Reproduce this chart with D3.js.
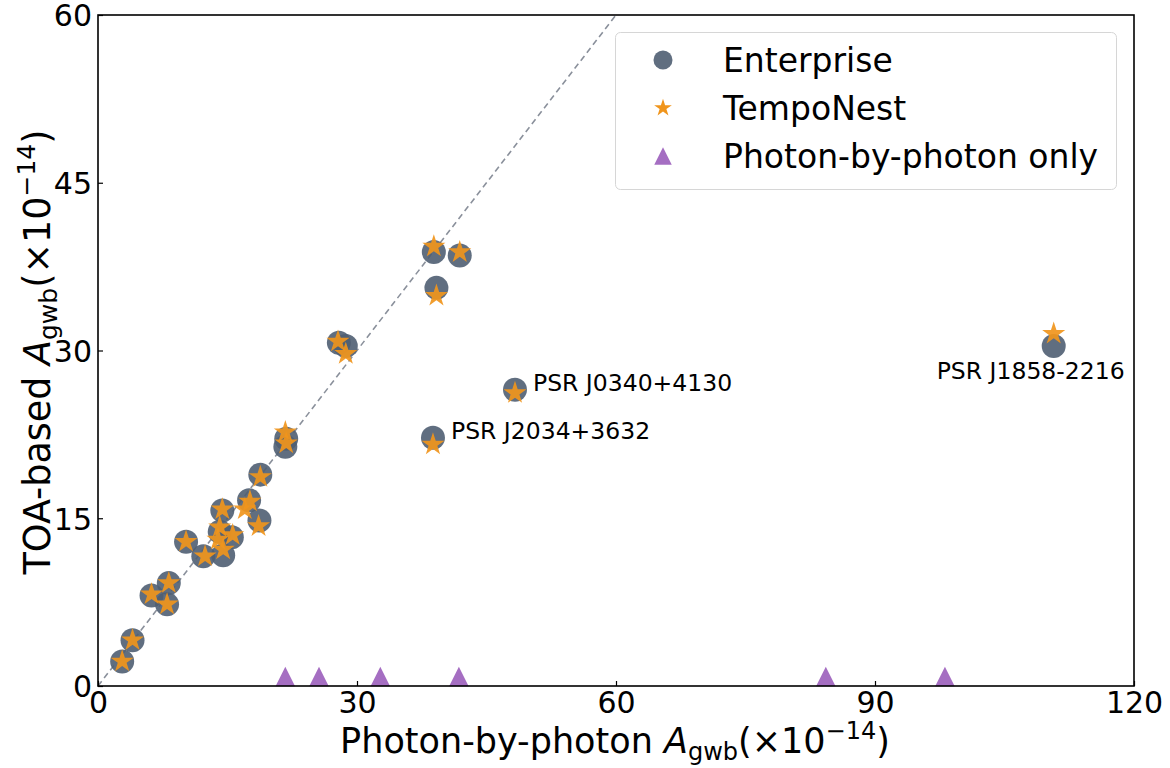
<!DOCTYPE html>
<html><head><meta charset="utf-8">
<script src="https://cdn.jsdelivr.net/npm/d3@7"></script>
<style>
html,body{margin:0;padding:0;background:#fff;}
svg text{font-family:"DejaVu Sans",sans-serif;}
</style></head>
<body>
<svg id="chart" width="1170" height="768"></svg>
<script>
// Data (units of 1e-14)
const enterpriseX = [2.8, 4.0, 6.2, 8.0, 8.2, 10.2, 12.2, 14.1, 15.5, 14.5, 14.4, 17.5, 18.7, 18.8, 21.8, 21.7, 27.9, 28.7, 38.9, 41.9, 39.2, 48.3, 38.8, 110.7];
const enterpriseY = [2.2, 4.1, 8.1, 7.3, 9.2, 12.9, 11.6, 13.8, 13.3, 11.7, 15.7, 16.6, 14.8, 18.9, 22.1, 21.4, 30.7, 30.4, 38.8, 38.5, 35.6, 26.5, 22.2, 30.4];
const tempoX = [2.8, 4.0, 6.2, 8.0, 8.2, 10.2, 12.4, 14.1, 13.9, 15.6, 14.5, 14.4, 17.6, 17.0, 18.6, 18.8, 21.7, 21.8, 27.8, 28.7, 38.9, 41.9, 39.2, 48.3, 38.8, 110.7];
const tempoY = [2.2, 4.1, 8.2, 7.3, 9.2, 12.9, 11.6, 14.2, 13.1, 13.5, 12.2, 15.8, 16.5, 15.8, 14.3, 18.7, 22.7, 21.7, 30.8, 29.7, 39.3, 38.8, 34.9, 26.2, 21.6, 31.5];
const photonOnlyX = [21.7, 25.6, 32.7, 41.8, 84.3, 98.1];
const photonOnlyY = [0.85, 0.85, 0.85, 0.85, 0.85, 0.85];
const xTicks = [0, 30, 60, 90, 120];
const yTicks = [0, 15, 30, 45, 60];
const annotNames = ["PSR J0340+4130", "PSR J2034+3632", "PSR J1858-2216"];
const annotX = [48.3, 38.8, 110.7];
const annotY = [26.5, 22.2, 30.4];
const legendNames = ["Enterprise", "TempoNest", "Photon-by-photon only"];

const colors = {ent: "#4f5e72", tempo: "#f0951c", photon: "#a56ec2"};

const svg = d3.select("#chart");
const L = 98, R = 1134, T = 15, B = 686;
const x = d3.scaleLinear().domain([0, 120]).range([L, R]);
const y = d3.scaleLinear().domain([0, 60]).range([B, T]);

// matplotlib-like triangle: width == height, centred on bbox
const mplTriangle = {
  draw(context, size) {
    const h = Math.sqrt(size);
    context.moveTo(0, -h / 2);
    context.lineTo(h / 2, h / 2);
    context.lineTo(-h / 2, h / 2);
    context.closePath();
  }
};

// diagonal dashed line y = x
svg.append("line")
  .attr("x1", x(0)).attr("y1", y(0)).attr("x2", x(60)).attr("y2", y(60))
  .attr("stroke", "#8a909b").attr("stroke-width", 1.6).attr("stroke-dasharray", "6,4");

// axes
const xAxis = d3.axisBottom(x).tickValues(xTicks).tickSizeInner(-5).tickSizeOuter(0).tickPadding(5);
const yAxis = d3.axisLeft(y).tickValues(yTicks).tickSizeInner(-5).tickSizeOuter(0).tickPadding(6);
const gx = svg.append("g").attr("transform", `translate(0,${B})`).call(xAxis);
const gy = svg.append("g").attr("transform", `translate(${L},0)`).call(yAxis);
[gx, gy].forEach(g => {
  g.select(".domain").remove();
  g.selectAll(".tick line").attr("stroke", "#000").attr("stroke-width", 1.2);
  g.selectAll(".tick text").attr("font-size", 30).attr("fill", "#000").attr("font-family", "DejaVu Sans");
});
gx.selectAll(".tick text").attr("dy", "0.72em");
gy.selectAll(".tick text").attr("dy", "0.36em");

// markers
const circleSym = d3.symbol().type(d3.symbolCircle).size(Math.PI * 12 * 12);
const starSym = d3.symbol().type(d3.symbolStar).size(165);
const triSym = d3.symbol().type(mplTriangle).size(19.5 * 19.5);

svg.append("g").selectAll("path").data(enterpriseX.map((v, i) => [v, enterpriseY[i]]))
  .join("path").attr("d", circleSym)
  .attr("transform", d => `translate(${x(d[0])},${y(d[1])})`)
  .attr("fill", colors.ent).attr("fill-opacity", 0.9);

svg.append("g").selectAll("path").data(tempoX.map((v, i) => [v, tempoY[i]]))
  .join("path").attr("d", starSym)
  .attr("transform", d => `translate(${x(d[0])},${y(d[1])})`)
  .attr("fill", colors.tempo).attr("fill-opacity", 0.92);

svg.append("g").selectAll("path").data(photonOnlyX.map((v, i) => [v, photonOnlyY[i]]))
  .join("path").attr("d", triSym)
  .attr("transform", d => `translate(${x(d[0])},${y(d[1])})`)
  .attr("fill", colors.photon);

// annotations
const annotDX = [18, 18, -117];
const annotDY = [-7, -7, 25];
svg.append("g").selectAll("text").data(annotNames)
  .join("text")
  .attr("x", (d, i) => x(annotX[i]) + annotDX[i])
  .attr("y", (d, i) => y(annotY[i]) + annotDY[i] + 8)
  .attr("font-size", 23.5).attr("fill", "#000")
  .text(d => d);

// frame
svg.append("rect").attr("x", L).attr("y", T).attr("width", R - L).attr("height", B - T)
  .attr("fill", "none").attr("stroke", "#000").attr("stroke-width", 1.6);

// legend
const lg = svg.append("g");
lg.append("rect").attr("x", 615.5).attr("y", 32.5).attr("width", 501).attr("height", 157)
  .attr("rx", 5).attr("fill", "#fff").attr("fill-opacity", 0.85).attr("stroke", "#d6d6d6").attr("stroke-width", 1);
const legSyms = [
  d3.symbol().type(d3.symbolCircle).size(Math.PI * 9.5 * 9.5)(),
  d3.symbol().type(d3.symbolStar).size(97)(),
  d3.symbol().type(mplTriangle).size(17.5 * 17.5)()
];
const legCols = [colors.ent, colors.tempo, colors.photon];
const legY = [60, 108, 156];
legendNames.forEach((n, i) => {
  lg.append("path").attr("d", legSyms[i]).attr("transform", `translate(663,${legY[i]})`)
    .attr("fill", legCols[i]).attr("fill-opacity", i === 0 ? 0.9 : 1);
  lg.append("text").attr("x", 723).attr("y", legY[i]).attr("dy", "0.36em")
    .attr("font-size", 33).attr("fill", "#000").text(n);
});

// axis labels
const xl = svg.append("text").attr("x", 615).attr("y", 753).attr("text-anchor", "middle")
  .attr("font-size", 35).attr("fill", "#000").attr("font-family", "DejaVu Sans Condensed, DejaVu Sans");
xl.append("tspan").text("Photon-by-photon ");
xl.append("tspan").attr("font-style", "italic").text("A");
xl.append("tspan").attr("font-size", 24).attr("dy", 7).text("gwb");
xl.append("tspan").attr("dy", -7).text("(×10");
xl.append("tspan").attr("font-size", 24).attr("dy", -14).text("−14");
xl.append("tspan").attr("dy", 14).text(")");

const yl = svg.append("text").attr("transform", "translate(50,352) rotate(-90)").attr("text-anchor", "middle")
  .attr("font-size", 36.5).attr("fill", "#000").attr("font-family", "DejaVu Sans Condensed, DejaVu Sans");
yl.append("tspan").text("TOA-based ");
yl.append("tspan").attr("font-style", "italic").text("A");
yl.append("tspan").attr("font-size", 25).attr("dy", 7).text("gwb");
yl.append("tspan").attr("dy", -7).text("(×10");
yl.append("tspan").attr("font-size", 25).attr("dy", -15).text("−14");
yl.append("tspan").attr("dy", 15).text(")");
</script>
</body></html>
